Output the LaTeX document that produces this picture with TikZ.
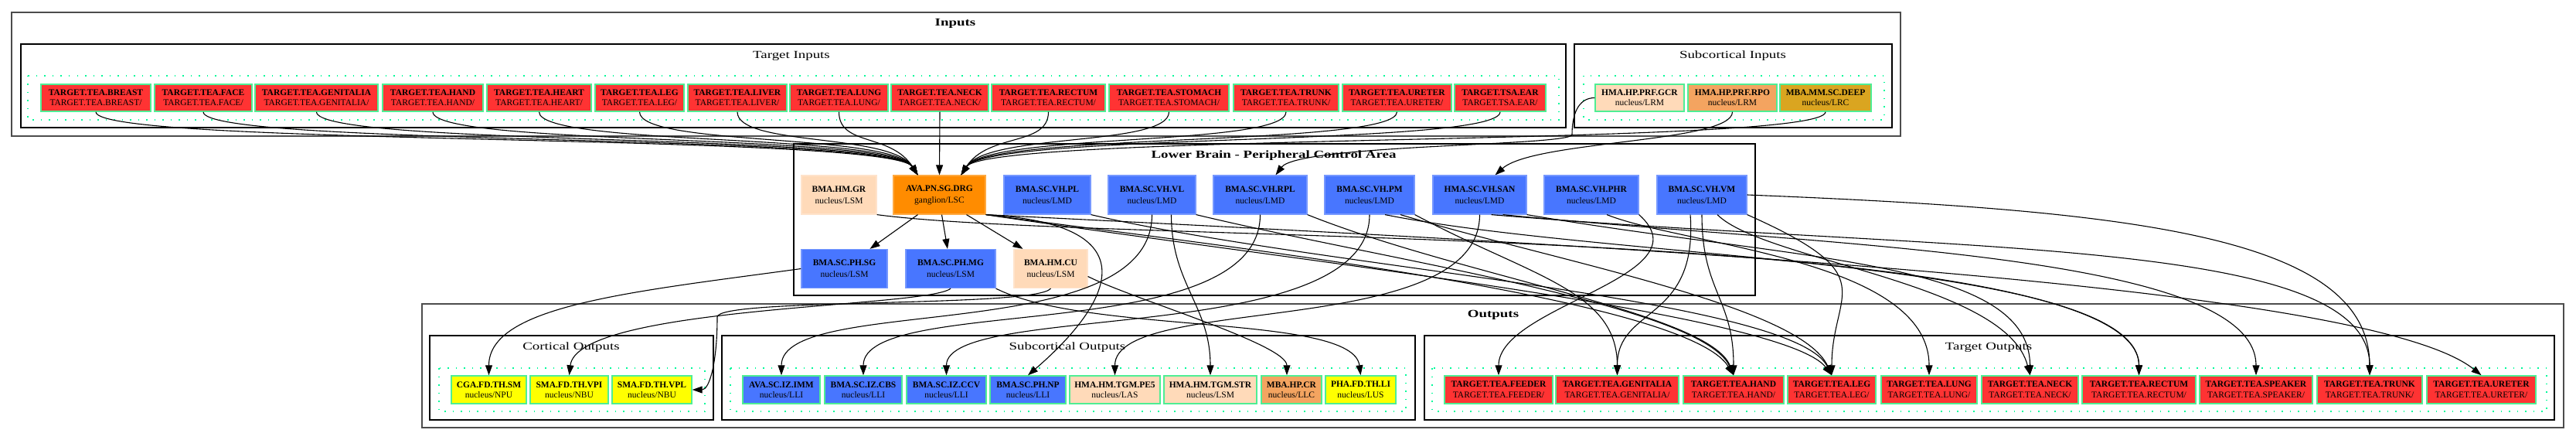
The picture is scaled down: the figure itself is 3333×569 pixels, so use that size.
\documentclass[tikz,border=0pt]{standalone}
\usepackage{fontspec}
\setmainfont{Liberation Serif}
\newfontfamily\clusterfont{Liberation Serif}[FakeStretch=1.35]
\usetikzlibrary{arrows.meta}

\definecolor{tgtred}{RGB}{255,51,51}
\definecolor{nodegreen}{RGB}{78,238,148}
\definecolor{dotgreen}{RGB}{0,250,154}
\definecolor{royal}{RGB}{72,118,255}
\definecolor{peach}{RGB}{255,218,185}
\definecolor{sandy}{RGB}{244,164,96}
\definecolor{golden}{RGB}{218,165,32}
\definecolor{darkorng}{RGB}{255,140,0}
\definecolor{yell}{RGB}{255,255,0}

\newcommand{\nlbl}[2]{\textbf{#1}\\#2}

\tikzset{
  nuc/.style={draw=nodegreen, line width=1.4pt, fill=#1, inner sep=0pt,
    minimum height=35pt, align=center, font=\fontsize{11.5}{13.5}\selectfont},
  tgt/.style={nuc=tgtred},
  core/.style={draw=#1!75!white, line width=1.2pt, fill=#1, inner sep=0pt,
    minimum height=50pt, align=center, font=\fontsize{11.5}{15}\selectfont},
  outerbox/.style={draw=black!70, line width=2.2pt},
  innerbox/.style={draw, line width=1.3pt},
  dotbox/.style={draw=dotgreen, line width=1.5pt, dash pattern=on 1.5pt off 9pt},
  ctitle/.style={font=\clusterfont\fontsize{14}{16}\selectfont},
  gtitle/.style={font=\clusterfont\bfseries\fontsize{14}{16}\selectfont},
  arr/.style={-{Triangle[length=13pt,width=9pt]}, line width=1.1pt},
}

\begin{document}
\begin{tikzpicture}[x=1pt,y=-1pt]
  \useasboundingbox (0,0) rectangle (3333,569);
  % Inputs
  \draw[outerbox] (15,16) rectangle (2459,176);
  \node[gtitle] (t-in) at (1236,30) {Inputs};
  \draw[innerbox] (27,57) rectangle (2026,165);
  \node[ctitle] (t-tin) at (1024,72) {Target Inputs};
  \draw[dotbox] (36,98) rectangle (2017,155);
  \draw[innerbox] (2037,57) rectangle (2448,165);
  \node[ctitle] (t-sin) at (2242,72) {Subcortical Inputs};
  \draw[dotbox] (2049,98) rectangle (2438,155);
  % Lower brain
  \draw[innerbox] (1027,186) rectangle (2271,382);
  \node[gtitle] (t-lb) at (1648,201) {Lower Brain - Peripheral Control Area};
  % Outputs
  \draw[outerbox] (546,393) rectangle (3317,553);
  \node[gtitle] (t-out) at (1932,407) {Outputs};
  \draw[innerbox] (556,434) rectangle (923,543);
  \node[ctitle] (t-cout) at (739,449) {Cortical Outputs};
  \draw[dotbox] (568,476) rectangle (912,532);
  \draw[innerbox] (934,434) rectangle (1831,543);
  \node[ctitle] (t-sout) at (1381,449) {Subcortical Outputs};
  \draw[dotbox] (945,476) rectangle (1819,532);
  \draw[innerbox] (1843,434) rectangle (3305,543);
  \node[ctitle] (t-tout) at (2573,449) {Target Outputs};
  \draw[dotbox] (1853,476) rectangle (3295,532);

  % Target inputs
  \foreach \n/\x/\w in {BREAST/124/142, FACE/263/126, GENITALIA/409.5/159,
      HAND/560/130, HEART/697.5/135, LEG/827.5/115, LIVER/954/128,
      LUNG/1085.5/127, NECK/1216/126, RECTUM/1356.5/147, STOMACH/1512.5/155,
      TRUNK/1664/136, URETER/1807.5/141}
    \node[tgt, minimum width=\w pt] (ti-\n) at (\x,126.5)
      {\nlbl{TARGET.TEA.\n}{TARGET.TEA.\n/}};
  \node[tgt, minimum width=118pt] (ti-EAR) at (1941,126.5)
    {\nlbl{TARGET.TSA.EAR}{TARGET.TSA.EAR/}};
  % Subcortical inputs
  \node[nuc=peach, minimum width=115pt] (gcr) at (2121.5,126.5) {\nlbl{HMA.HP.PRF.GCR}{nucleus/LRM}};
  \node[nuc=sandy, minimum width=115pt] (rpo) at (2241.5,126.5) {\nlbl{HMA.HP.PRF.RPO}{nucleus/LRM}};
  \node[nuc=golden, minimum width=118pt] (deep) at (2362,126.5) {\nlbl{MBA.MM.SC.DEEP}{nucleus/LRC}};

  % Lower brain, first row
  \node[core=peach, minimum width=97pt] (gr) at (1085.5,252) {\nlbl{BMA.HM.GR}{nucleus/LSM}};
  \node[core=darkorng, minimum width=119pt] (drg) at (1215.5,252) {\nlbl{AVA.PN.SG.DRG}{ganglion/LSC}};
  \node[core=royal, minimum width=112pt] (pl) at (1355,252) {\nlbl{BMA.SC.VH.PL}{nucleus/LMD}};
  \node[core=royal, minimum width=113pt] (vl) at (1490.5,252) {\nlbl{BMA.SC.VH.VL}{nucleus/LMD}};
  \node[core=royal, minimum width=121pt] (rpl) at (1630.5,252) {\nlbl{BMA.SC.VH.RPL}{nucleus/LMD}};
  \node[core=royal, minimum width=116pt] (pm) at (1772,252) {\nlbl{BMA.SC.VH.PM}{nucleus/LMD}};
  \node[core=royal, minimum width=121pt] (san) at (1914.5,252) {\nlbl{HMA.SC.VH.SAN}{nucleus/LMD}};
  \node[core=royal, minimum width=122pt] (phr) at (2059,252) {\nlbl{BMA.SC.VH.PHR}{nucleus/LMD}};
  \node[core=royal, minimum width=116pt] (vm) at (2202,252) {\nlbl{BMA.SC.VH.VM}{nucleus/LMD}};
  % Lower brain, second row
  \node[core=royal, minimum width=111pt] (sg) at (1092.5,347.5) {\nlbl{BMA.SC.PH.SG}{nucleus/LSM}};
  \node[core=royal, minimum width=116pt] (mg) at (1230,347.5) {\nlbl{BMA.SC.PH.MG}{nucleus/LSM}};
  \node[core=peach, minimum width=95pt] (cu) at (1359.5,347.5) {\nlbl{BMA.HM.CU}{nucleus/LSM}};

  % Cortical outputs
  \node[nuc=yell, minimum width=97pt, minimum height=36pt] (sm) at (632.5,504) {\nlbl{CGA.FD.TH.SM}{nucleus/NPU}};
  \node[nuc=yell, minimum width=101pt, minimum height=36pt] (vpi) at (736.5,504) {\nlbl{SMA.FD.TH.VPI}{nucleus/NBU}};
  \node[nuc=yell, minimum width=103pt, minimum height=36pt] (vpl) at (843.5,504) {\nlbl{SMA.FD.TH.VPL}{nucleus/NBU}};
  % Subcortical outputs
  \node[nuc=royal, minimum width=100pt, minimum height=36pt] (imm) at (1011,504) {\nlbl{AVA.SC.IZ.IMM}{nucleus/LLI}};
  \node[nuc=royal, minimum width=100pt, minimum height=36pt] (cbs) at (1117,504) {\nlbl{BMA.SC.IZ.CBS}{nucleus/LLI}};
  \node[nuc=royal, minimum width=103pt, minimum height=36pt] (ccv) at (1224.5,504) {\nlbl{BMA.SC.IZ.CCV}{nucleus/LLI}};
  \node[nuc=royal, minimum width=98pt, minimum height=36pt] (np) at (1330,504) {\nlbl{BMA.SC.PH.NP}{nucleus/LLI}};
  \node[nuc=peach, minimum width=117pt, minimum height=36pt] (pe5) at (1442.5,504) {\nlbl{HMA.HM.TGM.PE5}{nucleus/LAS}};
  \node[nuc=peach, minimum width=120pt, minimum height=36pt] (str) at (1566,504) {\nlbl{HMA.HM.TGM.STR}{nucleus/LSM}};
  \node[nuc=sandy, minimum width=78pt, minimum height=36pt] (cr) at (1671,504) {\nlbl{MBA.HP.CR}{nucleus/LLC}};
  \node[nuc=yell, minimum width=91pt, minimum height=36pt] (li) at (1760.5,504) {\nlbl{PHA.FD.TH.LI}{nucleus/LUS}};
  % Target outputs
  \foreach \n/\x/\w in {FEEDER/1939/140, GENITALIA/2092.5/159, HAND/2243/130,
      LEG/2370/114, LUNG/2496/124, NECK/2626.5/125, RECTUM/2767.5/147,
      SPEAKER/2919/146, TRUNK/3066/136, URETER/3210.5/141}
    \node[tgt, minimum width=\w pt, minimum height=36pt] (to-\n) at (\x,504)
      {\nlbl{TARGET.TEA.\n}{TARGET.TEA.\n/}};

  % Inputs into the lower brain
  \foreach \n in {BREAST,FACE,GENITALIA,HAND,HEART,LEG,LIVER,LUNG}
    \draw[arr] (ti-\n.south) .. controls +(0,45) and +(-35,-55) .. ([xshift=-28pt]drg.north);
  \draw[arr] (ti-NECK.south) -- (drg.north);
  \foreach \n in {RECTUM,STOMACH,TRUNK,URETER,EAR}
    \draw[arr] (ti-\n.south) .. controls +(0,45) and +(35,-55) .. ([xshift=28pt]drg.north);
  \draw[arr] (deep.south) .. controls +(0,45) and +(35,-55) .. ([xshift=28pt]drg.north);
  \coordinate (gcr-dip) at (2034,174);
  \draw[arr] (gcr.west) .. controls +(-22,0) and +(0,-25) .. (gcr-dip)
    .. controls +(0,15) and +(30,-40) .. ([xshift=20pt]rpl.north);
  \draw[arr] (rpo.south) .. controls +(0,40) and +(50,-45) .. ([xshift=20pt]san.north);

  % Ganglion to second row
  \draw[arr] ([xshift=-28pt]drg.south) -- ([xshift=33pt]sg.north);
  \draw[arr] ([xshift=3pt]drg.south) -- ([xshift=-4pt]mg.north);
  \draw[arr] ([xshift=35pt]drg.south) -- ([xshift=-36pt]cu.north);

  % Cortical and subcortical outputs
  \draw[arr] (sg.west) .. controls +(-220,30) and +(0,-90) .. (sm.north);
  \draw[arr] (mg.south) .. controls +(-30,25) and +(10,-90) .. (vpi.north);
  \coordinate (vpl-bend) at (928,410);
  \draw[arr] (cu.south) .. controls +(-20,25) and +(0,-25) .. (vpl-bend)
    .. controls +(0,60) and +(22,0) .. (vpl.east);
  \draw[arr] ([yshift=-10pt]cu.east) .. controls +(60,30) and +(0,-40) .. ([xshift=-6pt]cr.north);
  \draw[arr] (mg.south east) .. controls +(120,60) and +(-10,-80) .. (li.north);
  \draw[arr] (vl.south) .. controls +(0,173) and +(0,-106) .. (imm.north);
  \draw[arr] (rpl.south) .. controls +(0,173) and +(0,-106) .. (cbs.north);
  \draw[arr] (pm.south) .. controls +(0,173) and +(0,-96) .. (ccv.north);
  \draw[arr] (drg.south east) .. controls +(225,13) and +(100,-86) .. (np.north);
  \draw[arr] (san.south) .. controls +(0,163) and +(0,-106) .. (pe5.north);
  \draw[arr] ([xshift=25pt]vl.south) .. controls +(0,90) and +(0,-90) .. (str.north);

  % Target outputs
  \draw[arr] (gr.south east) .. controls +(300,40) and +(0,-200) .. (to-RECTUM.north);
  \draw[arr] (phr.south east) .. controls +(90,80) and +(0,-90) .. (to-FEEDER.north);
  \draw[arr] ([xshift=20pt]phr.south) .. controls +(100,40) and +(0,-150) .. (to-LUNG.north);
  \draw[arr] (pm.south east) .. controls +(150,80) and +(0,-110) .. (to-GENITALIA.north);
  \draw[arr] ([xshift=-15pt]vm.south) .. controls +(10,140) and +(0,-90) .. (to-GENITALIA.north);
  \draw[arr] (vm.south) .. controls +(0,100) and +(0,-100) .. (to-HAND.north);
  \draw[arr] (rpl.south east) .. controls +(200,80) and +(-30,-80) .. (to-HAND.north);
  \draw[arr] (vl.south east) .. controls +(250,60) and +(-40,-90) .. (to-HAND.north);
  \draw[arr] (drg.south east) .. controls +(300,40) and +(-60,-100) .. (to-HAND.north);
  \draw[arr] (pl.south east) .. controls +(300,70) and +(-50,-100) .. (to-LEG.north);
  \draw[arr] ([xshift=40pt]pm.south) .. controls +(200,60) and +(-40,-90) .. (to-LEG.north);
  \draw[arr] (drg.south east) .. controls +(400,60) and +(-60,-80) .. (to-LEG.north);
  \draw[arr] (vm.south east) .. controls +(180,80) and +(0,-110) .. (to-LEG.north);
  \draw[arr] (san.south east) .. controls +(350,60) and +(0,-150) .. (to-NECK.north);
  \draw[arr] ([xshift=20pt]vm.south) .. controls +(60,60) and +(-30,-120) .. (to-NECK.north);
  \draw[arr] ([xshift=20pt]pm.south) .. controls +(300,60) and +(0,-150) .. (to-RECTUM.north);
  \draw[arr] ([xshift=30pt]san.south) .. controls +(400,40) and +(0,-160) .. (to-SPEAKER.north);
  \draw[arr] (vm.east) .. controls +(500,20) and +(0,-180) .. (to-TRUNK.north);
  \draw[arr] ([xshift=15pt]san.south) .. controls +(600,50) and +(0,-180) .. (to-TRUNK.north);
  \draw[arr] (drg.south east) .. controls +(800,40) and +(-150,-120) .. (to-URETER.north);
\end{tikzpicture}
\end{document}
